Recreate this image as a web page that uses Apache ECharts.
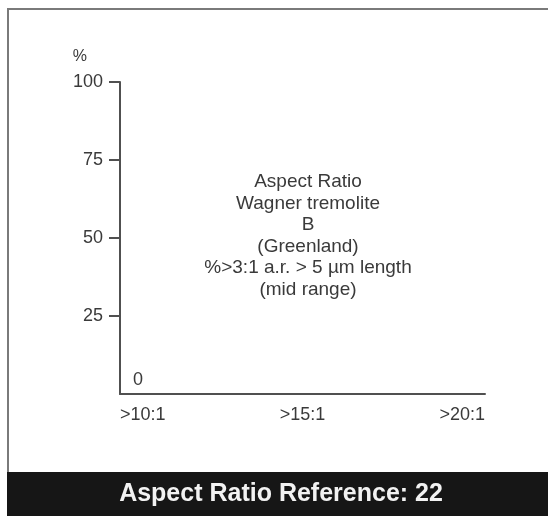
<!DOCTYPE html>
<html>
<head>
<meta charset="utf-8">
<script src="https://cdn.jsdelivr.net/npm/echarts@6/dist/echarts.min.js"></script>
<style>
html,body{margin:0;padding:0;background:#fff;}
#chart{width:548px;height:516px;}
</style>
</head>
<body>
<div id="chart"></div>
<script>
// ---- data ----
var categories = ['>10:1', '>15:1', '>20:1'];
var yTicks = [0, 25, 50, 75, 100];
var seriesValues = []; // no plotted values in the reference
var yUnit = '%';
var centerLines = ['Aspect Ratio', 'Wagner tremolite', 'B', '(Greenland)', '%>3:1 a.r. > 5 \u00b5m length', '(mid range)'];
var footerText = 'Aspect Ratio Reference: 22';

var FONT = '"Liberation Sans", Arial, Helvetica, sans-serif';
var TXT = '#3a3a3a';
var AX = '#505050';

var chart = echarts.init(document.getElementById('chart'), null, {renderer: 'canvas'});
var yMin = yTicks[0], yMax = yTicks[yTicks.length - 1], yStep = yTicks[1] - yTicks[0];
var yOuterTicks = yTicks.slice(1);

chart.setOption({
  backgroundColor: '#ffffff',
  animation: false,
  title: {
    text: centerLines.join('\n'),
    left: 303, top: 166,
    textAlign: 'center',
    textStyle: {fontFamily: FONT, fontSize: 19, fontWeight: 'normal', color: TXT, lineHeight: 21.6}
  },
  grid: {left: 120, right: 63, top: 82, bottom: 122, containLabel: false},
  xAxis: {
    type: 'category',
    data: categories,
    boundaryGap: false,
    axisLine: {lineStyle: {color: AX, width: 2}},
    axisTick: {show: false},
    axisLabel: {
      fontFamily: FONT, fontSize: 18, color: TXT, margin: 12,
      alignMinLabel: 'left', alignMaxLabel: 'right'
    },
    splitLine: {show: false}
  },
  yAxis: [{
    type: 'value',
    min: yMin, max: yMax, interval: yStep,
    name: yUnit,
    nameLocation: 'end',
    nameGap: 17,
    nameTextStyle: {fontFamily: FONT, fontSize: 16, color: TXT, align: 'right', padding: [0, 33, 0, 0]},
    axisLine: {show: true, lineStyle: {color: AX, width: 2}},
    axisTick: {show: true, length: 11, customValues: yOuterTicks, lineStyle: {color: AX, width: 2}},
    axisLabel: {
      fontFamily: FONT, fontSize: 18, color: TXT, margin: 17,
      customValues: yOuterTicks
    },
    splitLine: {show: false}
  }, {
    type: 'value',
    position: 'left',
    min: yMin, max: yMax, interval: yStep,
    axisLine: {show: false},
    axisTick: {show: false},
    axisLabel: {
      inside: true, fontFamily: FONT, fontSize: 18, color: TXT, margin: 13,
      verticalAlign: 'bottom', lineHeight: 28,
      customValues: [yMin]
    },
    splitLine: {show: false}
  }],
  series: [{type: 'line', data: seriesValues, yAxisIndex: 0, symbol: 'none'}],
  graphic: [
    {type: 'rect', z: -10, shape: {x: 8, y: 9, width: 560, height: 480}, style: {fill: 'none', stroke: '#7a7a7a', lineWidth: 2}},
    {type: 'rect', z: 10, shape: {x: 7, y: 472, width: 545, height: 50}, style: {fill: '#161616'}},
    {type: 'text', z: 11, x: 281, y: 494, style: {text: footerText, fontFamily: FONT, fontSize: 25, fontWeight: 'bold', fill: '#f2f2f2', align: 'center', verticalAlign: 'middle'}}
  ]
});
</script>
</body>
</html>
